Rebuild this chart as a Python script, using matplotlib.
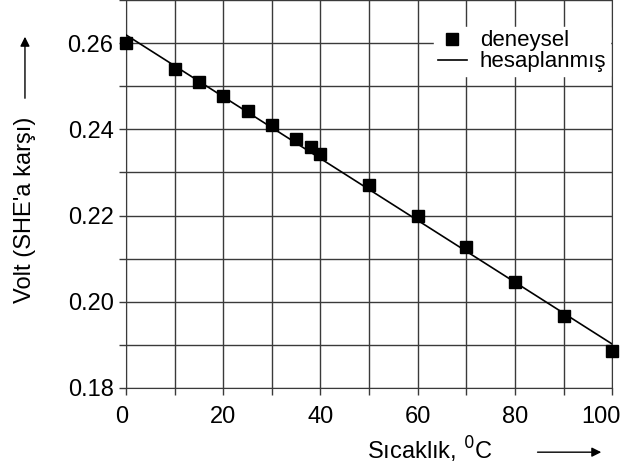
import matplotlib
matplotlib.use("Agg")
import matplotlib.pyplot as plt
import matplotlib.transforms as mtransforms
import numpy as np

plt.rcParams['font.family'] = ['Liberation Sans', 'DejaVu Sans']

# measured points (temperature, volt vs SHE)
temps = [0, 10, 15, 20, 25, 30, 35, 38, 40, 50, 60, 70, 80, 90, 100]
volts = [0.2600, 0.2540, 0.2509, 0.2477, 0.2442, 0.2409, 0.2377, 0.2358,
         0.2342, 0.2272, 0.2198, 0.2126, 0.2047, 0.1967, 0.1886]

# calculated line end points
calc_temps = [0, 100]
calc_volts = [0.2619, 0.1902]

x_ticks = [0, 20, 40, 60, 80, 100]
y_ticks = [0.18, 0.20, 0.22, 0.24, 0.26]

fs = 17

fig = plt.figure(figsize=(6.24, 4.72), dpi=100)
ax = fig.add_axes([0.202, 0.178, 0.779, 0.822])

ax.plot(calc_temps, calc_volts, color='black', lw=1.2, label='hesaplanmış', zorder=3)
ax.plot(temps, volts, 's', color='black', ms=8, label='deneysel', zorder=4, clip_on=False)

ax.set_xlim(0, 100)
ax.set_ylim(0.18, 0.27)
ax.set_xticks(np.arange(0, 101, 10), minor=True)
ax.set_yticks(np.arange(0.18, 0.2701, 0.01), minor=True)
ax.set_xticks(x_ticks)
ax.set_yticks(y_ticks)
ax.set_yticklabels([f'{v:.2f}' for v in y_ticks])
ax.grid(True, which='both', color='#3a3a3a', lw=1.0)
ax.tick_params(which='both', length=5, width=1, color='#3a3a3a', labelsize=fs)
ax.tick_params(axis='x', pad=8)
ax.tick_params(axis='y', pad=4)
ax.spines['top'].set_visible(False)
for s in ['left', 'bottom', 'right']:
    ax.spines[s].set_color('#3a3a3a')

# last x label sits a bit to the left so it stays inside the picture
last = ax.get_xticklabels()[-1]
last.set_horizontalalignment('right')
last.set_transform(last.get_transform() + mtransforms.ScaledTranslation(8 / 100, 0, fig.dpi_scale_trans))
first = ax.get_xticklabels()[0]
first.set_transform(first.get_transform() + mtransforms.ScaledTranslation(-4 / 100, 0, fig.dpi_scale_trans))

handles, labels = ax.get_legend_handles_labels()
leg = ax.legend(handles[::-1], labels[::-1], loc='upper right', bbox_to_anchor=(0.995, 0.93),
                frameon=True, fontsize=16, handlelength=1.3, handletextpad=0.6,
                borderpad=0.15, labelspacing=0.0, fancybox=False, borderaxespad=0)
leg.get_frame().set_edgecolor('white')
leg.get_frame().set_alpha(1)

fig.text(0.04, 0.555, "Volt (SHE'a karşı)", rotation=90, ha='center', va='center', fontsize=fs)
fig.text(0.688, 0.047, 'Sıcaklık, $^{0}$C', ha='center', va='center', fontsize=fs)

fig.add_artist(matplotlib.patches.FancyArrowPatch((0.04, 0.786), (0.04, 0.928), transform=fig.transFigure,
                                                  arrowstyle='-|>', mutation_scale=14, color='black', lw=1))
fig.add_artist(matplotlib.patches.FancyArrowPatch((0.857, 0.042), (0.968, 0.042), transform=fig.transFigure,
                                                  arrowstyle='-|>', mutation_scale=14, color='black', lw=1))

fig.savefig('out.png', dpi=100)
